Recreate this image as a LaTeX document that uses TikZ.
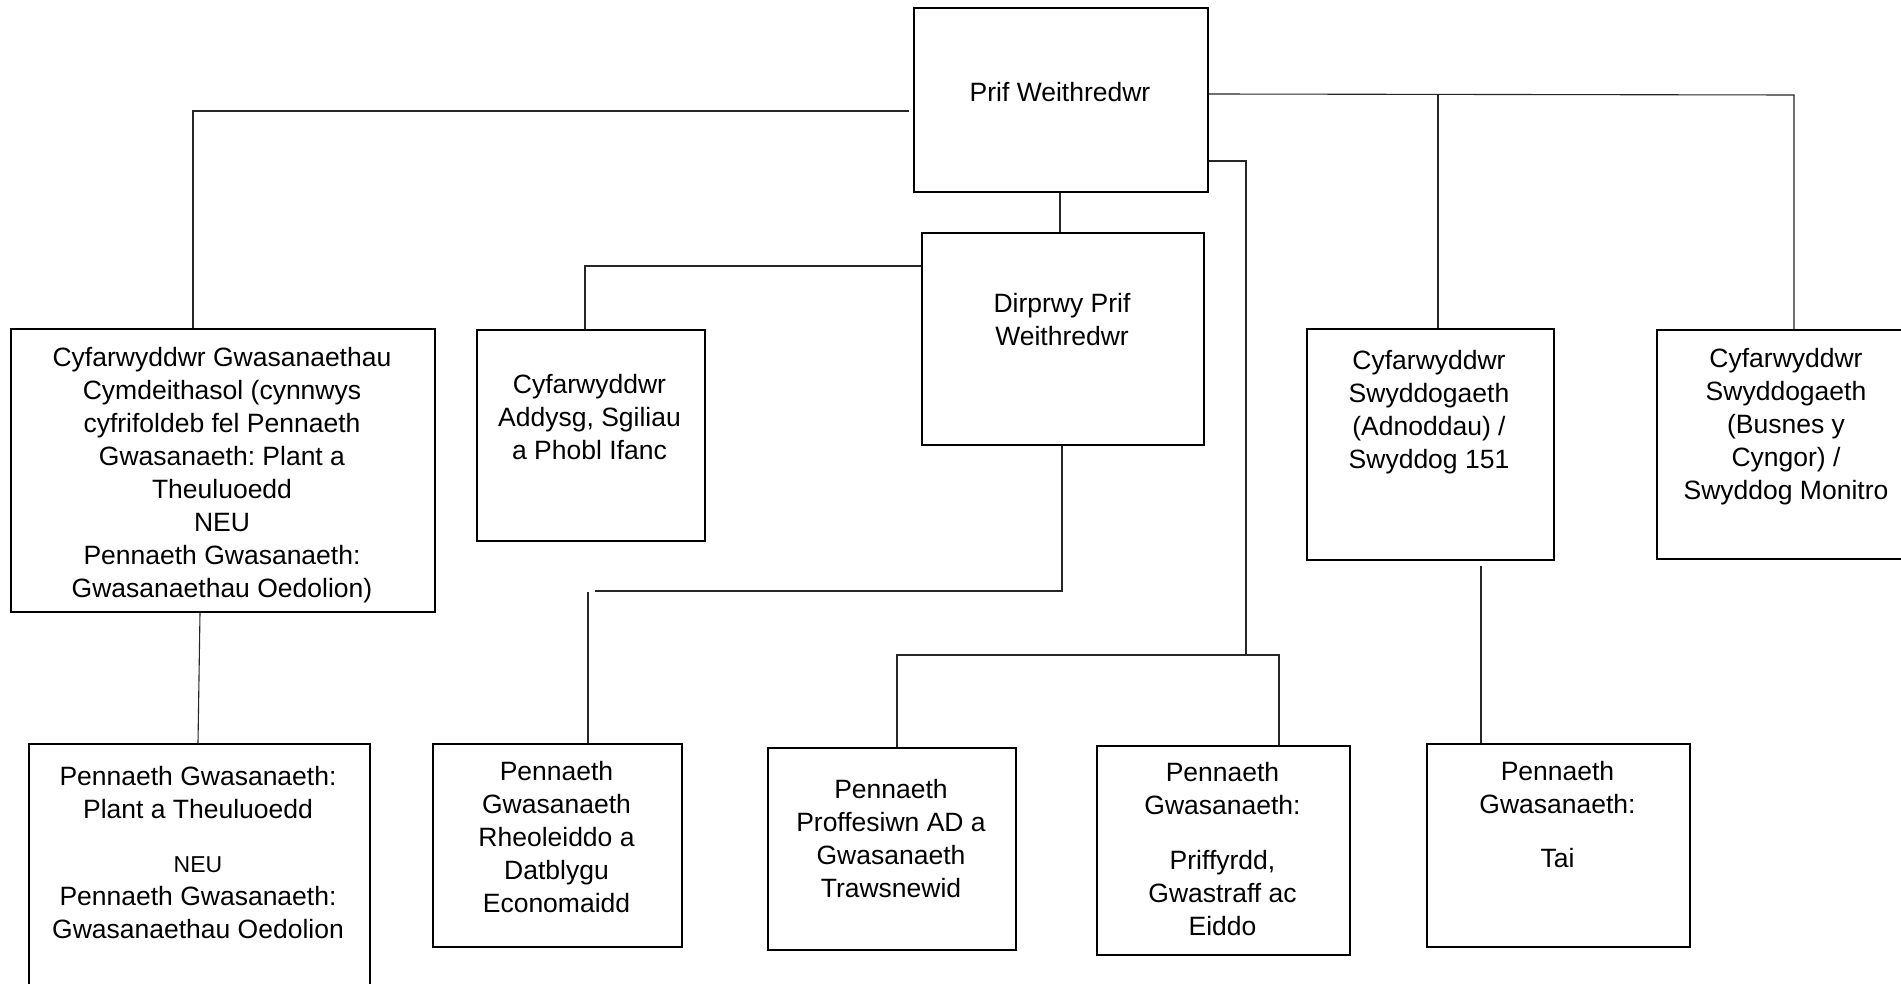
\documentclass[tikz,border=0pt]{standalone}
\usepackage{fontspec}
\setmainfont{Liberation Sans}
\usetikzlibrary{calc}
\frenchspacing
\begin{document}
\begin{tikzpicture}[x=1pt,y=-1pt,
  box/.style={draw=black, line width=2pt, rectangle, inner sep=0pt, anchor=north west},
  txt/.style={anchor=north, align=center, inner sep=0pt, text=black,
              font=\fontsize{26.5}{33}\selectfont\frenchspacing, execute at begin node=\strut},
  conn/.style={draw=black!85, line width=1.1pt}]
\useasboundingbox (0,0) rectangle (1901,984);
\clip (0,0) rectangle (1901,984);
\fill[white] (0,0) rectangle (1901,984);
% boxes
\node[box, minimum width=294pt, minimum height=184pt] (pw) at (913,7) {};
\node[box, minimum width=282pt, minimum height=212pt] (dp) at (921,232) {};
\node[box, minimum width=424pt, minimum height=283pt] (b1) at (10,328) {};
\node[box, minimum width=228pt, minimum height=211pt] (b2) at (476,329) {};
\node[box, minimum width=247pt, minimum height=231pt] (b3) at (1306,328) {};
\node[box, minimum width=260pt, minimum height=229pt] (b4) at (1656,329) {};
\node[box, minimum width=341pt, minimum height=260pt] (b5) at (28,743) {};
\node[box, minimum width=249pt, minimum height=203pt] (b6) at (432,743) {};
\node[box, minimum width=248pt, minimum height=202pt] (b7) at (767,747) {};
\node[box, minimum width=253pt, minimum height=209pt] (b8) at (1096,745) {};
\node[box, minimum width=263pt, minimum height=203pt] (b9) at (1426,743) {};
% texts
\node[txt] (pwt) at (1060,78) {Prif Weithredwr};
\node[txt] (dpt) at (1062,293) {Dirprwy Prif\\Weithredwr};
\node[txt] (b1t) at (222,347.5) {Cyfarwyddwr Gwasanaethau\\Cymdeithasol (cynnwys\\cyfrifoldeb fel Pennaeth\\Gwasanaeth: Plant a\\Theuluoedd\\NEU\\Pennaeth Gwasanaeth:\\Gwasanaethau Oedolion)};
\node[txt] (b2t) at (589.5,374) {Cyfarwyddwr\\Addysg, Sgiliau\\a Phobl Ifanc};
\node[txt] (b3t) at (1429,350.5) {Cyfarwyddwr\\Swyddogaeth\\(Adnoddau) /\\Swyddog 151};
\node[txt] (b4t) at (1786,348) {Cyfarwyddwr\\Swyddogaeth\\(Busnes y\\Cyngor) /\\Swyddog Monitro};
\node[txt] (b5t) at (198,766.5) {Pennaeth Gwasanaeth:\\Plant a Theuluoedd\\[21pt]{\fontsize{23}{33}\selectfont NEU}\\Pennaeth Gwasanaeth:\\Gwasanaethau Oedolion};
\node[txt] (b6t) at (556.5,761) {Pennaeth\\Gwasanaeth\\Rheoleiddo a\\Datblygu\\Economaidd};
\node[txt] (b7t) at (891,779) {Pennaeth\\Proffesiwn AD a\\Gwasanaeth\\Trawsnewid};
\node[txt] (b8t) at (1222.5,762.5) {Pennaeth\\Gwasanaeth:\\[22pt]Priffyrdd,\\Gwastraff ac\\Eiddo};
\node[txt] (b9t) at (1557.5,761) {Pennaeth\\Gwasanaeth:\\[21pt]Tai};
% connectors
\draw[conn] ($(pw.north west)+(-4,104)$) -| ($(b1.north west)+(183,0)$);
\draw[conn] ($(pw.south)+(-1,0)$) -- ($(dp.north)+(-3,0)$);
\draw[conn] ($(dp.north west)+(0,34)$) -| ($(b2.north west)+(109,0)$);
\draw[conn] ($(dp.south)+(-1,0)$) |- ($(b6.north west)+(163,-152)$);
\draw[conn] ($(b6.north west)+(156,-151)$) -- ($(b6.north west)+(156,0)$);
\draw[conn] ($(pw.north east)+(0,87)$) -- ($(b4.north west)+(138,-234)$) -- ($(b4.north west)+(138,0)$);
\draw[conn] ($(b3.north west)+(132,-233)$) -- ($(b3.north west)+(132,0)$);
\draw[conn] ($(pw.north east)+(0,154)$) -| ($(b7.north west)+(479,-92)$);
\draw[conn] ($(b7.north west)+(130,0)$) |- ($(b8.north west)+(183,-90)$) -- ($(b8.north west)+(183,0)$);
\draw[conn] ($(b3.south west)+(175,5)$) -- ($(b9.north west)+(55,0)$);
\draw[conn] ($(b1.south west)+(190,0)$) -- ($(b5.north west)+(170,0)$);
\end{tikzpicture}
\end{document}
